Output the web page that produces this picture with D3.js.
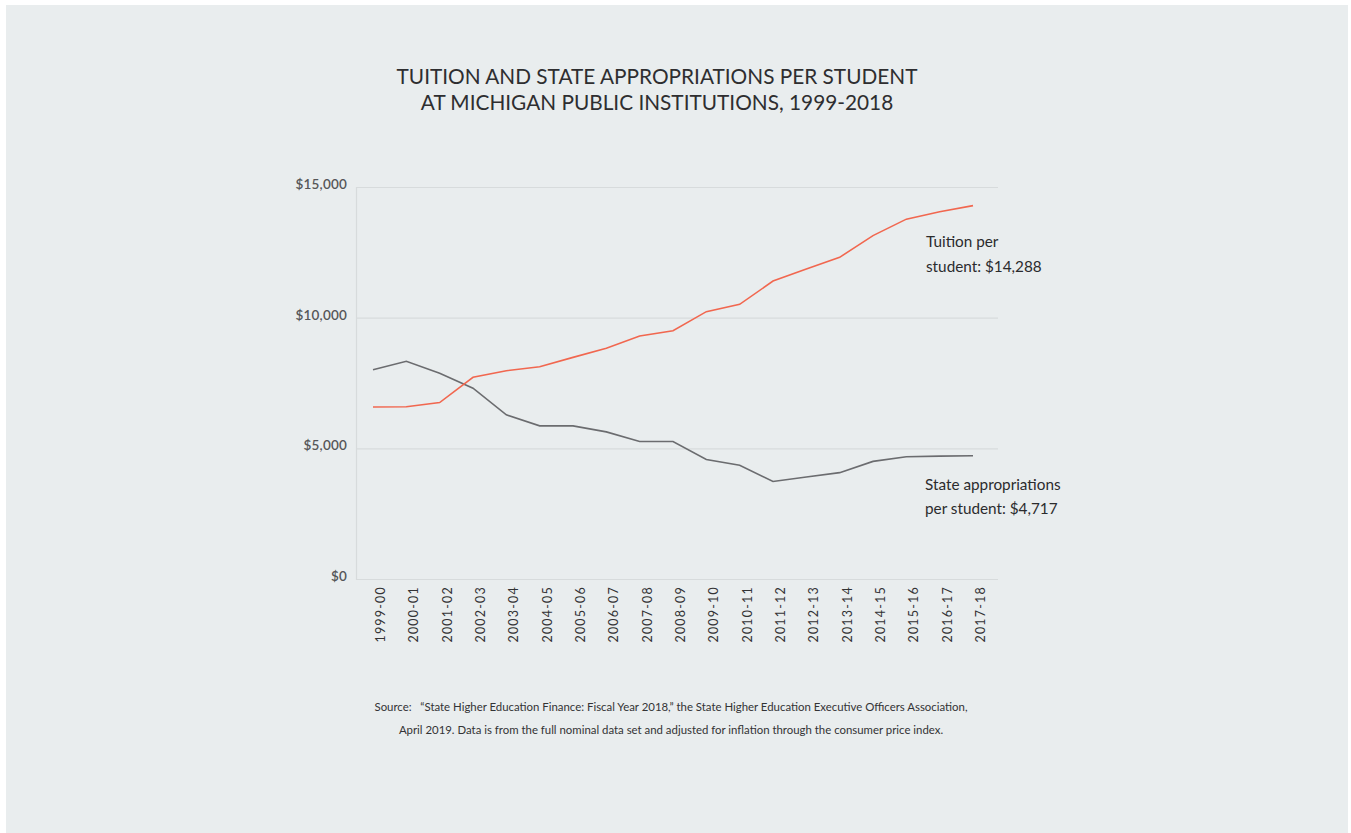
<!DOCTYPE html>
<html>
<head>
<meta charset="utf-8">
<script src="https://cdn.jsdelivr.net/npm/d3@7"></script>
<style>
  html, body { margin: 0; padding: 0; background: #ffffff; }
  svg { display: block; }
  text { font-family: Lato, "Open Sans", sans-serif; }
</style>
</head>
<body>
<svg id="chart" width="1351" height="833"></svg>
<script>
// Academic years on the x axis
const years = ["1999-00","2000-01","2001-02","2002-03","2003-04","2004-05","2005-06",
  "2006-07","2007-08","2008-09","2009-10","2010-11","2011-12","2012-13","2013-14",
  "2014-15","2015-16","2016-17","2017-18"];

// Tuition revenue per student (inflation-adjusted dollars)
const tuition = [6580, 6590, 6750, 7720, 7970, 8120, 8480, 8830, 9300, 9500,
  10230, 10510, 11400, 11860, 12310, 13140, 13770, 14050, 14288];

// State appropriations per student (inflation-adjusted dollars)
const appropriations = [8010, 8330, 7870, 7300, 6280, 5860, 5860, 5630, 5260, 5260,
  4570, 4350, 3730, 3900, 4070, 4500, 4680, 4700, 4717];

const yTicks = [0, 5000, 10000, 15000];

const titleLines = ["TUITION AND STATE APPROPRIATIONS PER STUDENT",
  "AT MICHIGAN PUBLIC INSTITUTIONS, 1999-2018"];
const tuitionNote = ["Tuition per", "student: $14,288"];
const apprNote = ["State appropriations", "per student: $4,717"];
const sourceLines = [
  "Source:   \u201cState Higher Education Finance: Fiscal Year 2018,\u201d the State Higher Education Executive Officers Association,",
  "April 2019. Data is from the full nominal data set and adjusted for inflation through the consumer price index."
];

const svg = d3.select("#chart");

// panel background
svg.append("rect").attr("x", 6).attr("y", 5).attr("width", 1342).attr("height", 828)
  .attr("fill", "#e9edee");

const plot = { left: 356, right: 998, top: 187, bottom: 579 };

const x = d3.scalePoint().domain(years).range([373, 973]);
const y = d3.scaleLinear().domain([0, 15000]).range([plot.bottom, plot.top]);

// title
svg.append("g").selectAll("text").data(titleLines).join("text")
  .attr("x", 657).attr("y", (d, i) => 84 + i * 26)
  .attr("text-anchor", "middle")
  .attr("font-size", 20.8).attr("fill", "#2e2e30")
  .text(d => d);

// horizontal gridlines + y axis labels
const yAxis = d3.axisLeft(y).tickValues(yTicks)
  .tickSize(-(plot.right - plot.left)).tickPadding(9)
  .tickFormat(d => "$" + d3.format(",")(d));
const gy = svg.append("g").attr("transform", `translate(${plot.left},0)`).call(yAxis);
gy.select(".domain").attr("stroke", "#d7dbdc").attr("stroke-width", 1.2);
gy.selectAll(".tick line").attr("stroke", "#d7dbdc").attr("stroke-width", 1.2);
gy.selectAll(".tick text").attr("font-size", 13.5).attr("font-weight", 600)
  .attr("fill", "#555658").attr("dy", "0.12em").attr("letter-spacing", "0.2px");

// x axis labels, rotated
const xAxis = d3.axisBottom(x).tickSize(0).tickPadding(6);
const gx = svg.append("g").attr("transform", `translate(0,${plot.bottom})`).call(xAxis);
gx.select(".domain").remove();
gx.selectAll(".tick text")
  .attr("transform", "rotate(-90) translate(0,7)")
  .attr("text-anchor", "end")
  .attr("x", -7).attr("y", 0).attr("dy", "0.35em")
  .attr("font-size", 12.5).attr("fill", "#333335")
  .attr("letter-spacing", "1.2px");

// lines
const line = d3.line().x((d, i) => x(years[i])).y(d => y(d));
svg.append("path").datum(appropriations).attr("d", line)
  .attr("fill", "none").attr("stroke", "#6b6c6f").attr("stroke-width", 1.6);
svg.append("path").datum(tuition).attr("d", line)
  .attr("fill", "none").attr("stroke", "#f1674f").attr("stroke-width", 1.6);

// end annotations
svg.append("g").selectAll("text").data(tuitionNote).join("text")
  .attr("x", 926).attr("y", (d, i) => 247 + i * 25)
  .attr("font-size", 15.3).attr("fill", "#2b2b2d").text(d => d);
svg.append("g").selectAll("text").data(apprNote).join("text")
  .attr("x", 925).attr("y", (d, i) => 490 + i * 24)
  .attr("font-size", 15.3).attr("fill", "#2b2b2d").text(d => d);

// source
svg.append("g").selectAll("text").data(sourceLines).join("text")
  .attr("x", 671).attr("y", (d, i) => 711 + i * 23)
  .attr("text-anchor", "middle")
  .style("white-space", "pre")
  .attr("font-size", 11.4).attr("fill", "#333335")
  .text(d => d);
</script>
</body>
</html>
